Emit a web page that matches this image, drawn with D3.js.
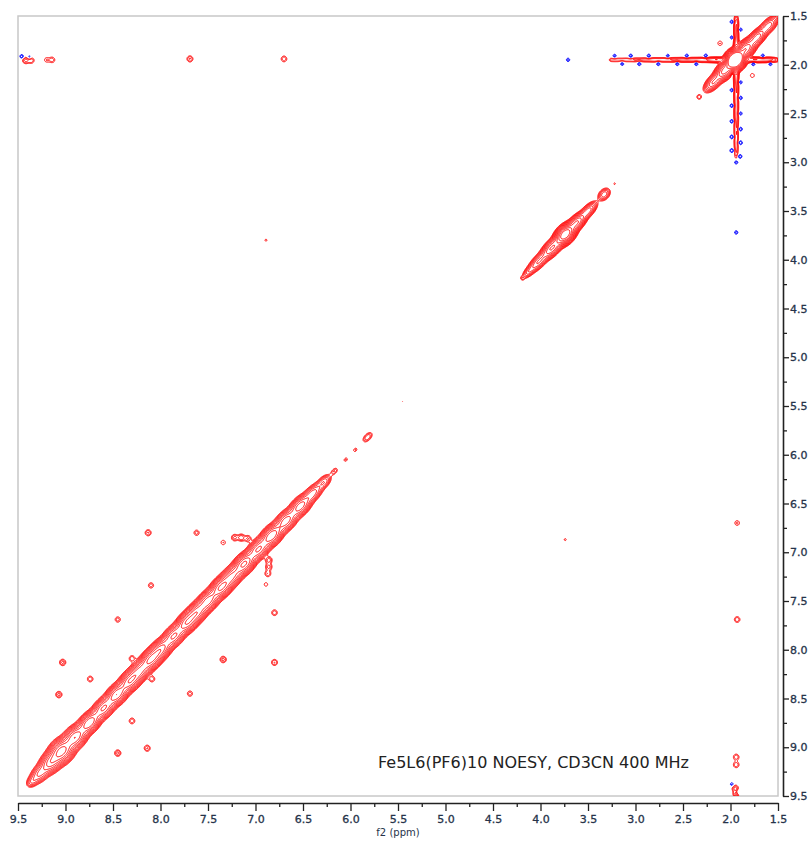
<!DOCTYPE html>
<html>
<head>
<meta charset="utf-8">
<script src="https://cdn.jsdelivr.net/npm/d3@7"></script>
<style>
body { margin: 0; background: #fff; }
svg { display: block; font-family: "DejaVu Sans", Verdana, sans-serif; }
</style>
</head>
<body>
<svg width="812" height="841"></svg>
<script>
// diagonal peaks: shift (ppm), height, width along / across the diagonal (ppm)
var diagShift  = [1.60, 1.72, 1.84, 1.95, 2.06, 2.18, 2.33,
                  3.22, 3.33, 3.50, 3.62, 3.74, 3.88, 4.02, 4.12, 4.19,
                  5.45, 5.82, 5.95, 6.05, 6.17, 6.28, 6.40, 6.53, 6.68, 6.83, 6.97,
                  7.12, 7.25, 7.36, 7.50, 7.62, 7.72, 7.86, 8.00, 8.10, 8.22, 8.32,
                  8.46, 8.60, 8.75, 8.90, 9.04, 9.15, 9.27, 9.35];
var diagHeight = [12, 25, 40, 200, 35, 14, 2,
                  1.2, 6, 12, 30, 90, 30, 14, 5, 1.4,
                  1.1, 3, 1.6, 1.6, 2.2, 6, 12, 25, 25, 40, 30,
                  45, 30, 45, 35, 35, 40, 30, 35, 45, 30, 40,
                  40, 30, 40, 40, 50, 25, 10, 4];
var diagAlong  = [0.06, 0.06, 0.06, 0.05, 0.06, 0.06, 0.02,
                  0.015, 0.04, 0.06, 0.06, 0.06, 0.07, 0.07, 0.05, 0.015,
                  0.012, 0.04, 0.02, 0.02, 0.03, 0.05, 0.07, 0.07, 0.07, 0.07, 0.07,
                  0.07, 0.07, 0.07, 0.07, 0.07, 0.07, 0.07, 0.07, 0.07, 0.07, 0.07,
                  0.07, 0.07, 0.07, 0.07, 0.07, 0.07, 0.06, 0.04];
var diagAcross = [0.03, 0.03, 0.035, 0.04, 0.035, 0.03, 0.02,
                  0.015, 0.028, 0.026, 0.03, 0.036, 0.032, 0.028, 0.022, 0.015,
                  0.012, 0.022, 0.015, 0.015, 0.018, 0.028, 0.033, 0.038, 0.04, 0.04, 0.04,
                  0.04, 0.04, 0.04, 0.04, 0.04, 0.04, 0.04, 0.04, 0.04, 0.04, 0.04,
                  0.04, 0.04, 0.04, 0.045, 0.05, 0.045, 0.038, 0.028];

// cross peaks: [f2, f1, height]
var crossPeaks = [
  [8.13, 6.80, 2.2], [6.80, 8.13, 2.2],
  [7.62, 6.80, 1.8], [6.80, 7.62, 2.0],
  [8.10, 7.34, 1.8], [7.34, 8.10, 2.4],
  [8.45, 7.69, 1.8], [7.69, 8.45, 1.8],
  [9.03, 8.13, 2.4], [8.14, 9.01, 2.2],
  [9.07, 8.46, 2.4], [8.45, 9.06, 2.4],
  [8.74, 8.30, 2.0], [8.30, 8.73, 2.0],
  [8.30, 8.09, 2.0], [8.09, 8.30, 2.0],
  [7.34, 6.90, 1.5], [6.89, 7.33, 1.3],
  [7.22, 6.85, 2.4], [7.15, 6.85, 2.9], [7.08, 6.86, 2.2],
  [6.86, 7.08, 2.6], [6.86, 7.15, 2.4], [6.87, 7.22, 2.1],
  [6.70, 1.94, 2.0], [1.93, 6.70, 1.6],
  [7.69, 1.94, 2.2], [1.93, 7.69, 2.0],
  [6.89, 3.80, 1.1], [3.74, 6.87, 1.1],
  [2.11, 1.78, 1.5], [1.77, 2.11, 1.4],
  [9.42, 1.955, 2.4], [9.36, 1.955, 2.0],
  [9.20, 1.95, 1.4], [9.14, 1.95, 1.8],
  [1.94, 9.10, 2.0], [1.94, 9.18, 2.0],
  [1.95, 9.42, 2.4], [1.94, 9.48, 2.4]
];

// t1 noise through the solvent line at 1.94 ppm
var streakVf1 = [1.55, 1.62, 1.70, 1.78, 1.86, 2.04, 2.12, 2.20, 2.28, 2.36, 2.44, 2.52, 2.60, 2.68, 2.76, 2.84, 2.92];
var streakVh  = [2.5, 3, 3, 3.5, 5, 5, 3.5, 3, 3, 2.5, 2.5, 2.5, 2, 2, 2, 1.7, 1.4];
var streakHf2 = [3.28, 3.20, 3.10, 3.00, 2.90, 2.80, 2.70, 2.60, 2.50, 2.40, 2.30, 2.20, 2.12, 1.78, 1.70, 1.62, 1.55];
var streakHh  = [1.2, 1.4, 1.6, 1.8, 2, 2.4, 2.4, 2.6, 3, 3, 3.5, 4, 5, 5, 4, 3.5, 3];

// negative (blue) peaks: [f2, f1, depth]
var negPeaks = [
  [1.985, 1.56, 2.0], [1.895, 1.64, 1.8], [1.985, 1.72, 1.8], [1.895, 1.82, 2.0],
  [1.985, 2.10, 2.1], [1.895, 2.18, 1.8], [1.985, 2.26, 2.0], [1.895, 2.34, 2.0],
  [1.985, 2.42, 2.1], [1.895, 2.50, 1.8], [1.985, 2.58, 2.1], [1.895, 2.66, 2.1],
  [1.985, 2.74, 2.2], [1.895, 2.80, 2.2], [1.985, 2.88, 2.3], [1.90, 2.94, 2.2],
  [1.94, 3.00, 2.2],
  [3.30, 1.95, 2.0], [3.22, 1.91, 1.8], [3.14, 1.99, 1.8], [3.05, 1.91, 2.0],
  [2.96, 1.99, 2.0], [2.86, 1.91, 2.0], [2.76, 1.99, 2.0], [2.66, 1.91, 1.8],
  [2.56, 1.99, 2.0], [2.46, 1.91, 2.0], [2.36, 1.99, 2.0], [2.26, 1.91, 2.1],
  [1.76, 1.99, 2.1], [1.66, 1.91, 2.0], [1.58, 1.99, 2.0],
  [3.71, 1.95, 1.8], [1.94, 3.72, 1.8],
  [9.46, 1.915, 2.2], [9.38, 1.92, 1.9], [1.915, 9.46, 2.2], [1.985, 9.38, 1.8]
];

var majorTicks = [9.5, 9.0, 8.5, 8.0, 7.5, 7.0, 6.5, 6.0, 5.5, 5.0, 4.5, 4.0, 3.5, 3.0, 2.5, 2.0, 1.5];
var minorTicks = [9.25, 8.75, 8.25, 7.75, 7.25, 6.75, 6.25, 5.75, 5.25, 4.75, 4.25, 3.75, 3.25, 2.75, 2.25, 1.75];

var svg = d3.select("svg");
var pL = 18, pR = 778, pT = 16, pB = 796;

var x = d3.scaleLinear().domain([9.5, 1.5]).range([pL, pR]);
var y = d3.scaleLinear().domain([1.5, 9.5]).range([pT, pB]);

// spectrum intensity on a 1px grid
var nx = pR - pL, ny = pB - pT;
var grid = new Array(nx * ny).fill(0);
var gx = d3.range(nx).map(i => x.invert(pL + i + 0.5));
var gy = d3.range(ny).map(j => y.invert(pT + j + 0.5));

function addPeak(f2, f1, h, s2, s1, diag) {
    var r = 4 * Math.max(s2, s1);
    var i0 = Math.max(0, Math.floor(x(f2 + r) - pL)), i1 = Math.min(nx - 1, Math.ceil(x(f2 - r) - pL));
    var j0 = Math.max(0, Math.floor(y(f1 - r) - pT)), j1 = Math.min(ny - 1, Math.ceil(y(f1 + r) - pT));
    for (var j = j0; j <= j1; j++) {
        for (var i = i0; i <= i1; i++) {
            var dx = gx[i] - f2, dy = gy[j] - f1, e;
            if (diag) {
                var u = (dx + dy) / Math.SQRT2, v = (dx - dy) / Math.SQRT2;
                e = u * u / (2 * s2 * s2) + v * v / (2 * s1 * s1);
            } else {
                e = dx * dx / (2 * s2 * s2) + dy * dy / (2 * s1 * s1);
            }
            if (e < 12) grid[j * nx + i] += h * Math.exp(-e);
        }
    }
}

diagShift.forEach((c, k) => addPeak(c, c, diagHeight[k], diagAlong[k], diagAcross[k], true));
crossPeaks.forEach(p => addPeak(p[0], p[1], p[2], 0.025, 0.025, false));
streakVf1.forEach((f1, k) => addPeak(1.94, f1, streakVh[k], 0.016, 0.05, false));
streakHf2.forEach((f2, k) => addPeak(f2, 1.95, streakHh[k], 0.05, 0.016, false));
negPeaks.forEach(p => addPeak(p[0], p[1], -p[2], 0.016, 0.016, false));

var levels = d3.range(12).map(k => Math.pow(1.45, k));
var pos = d3.contours().size([nx, ny]).thresholds(levels)(grid);
var neg = d3.contours().size([nx, ny]).thresholds([1, 1.45])(grid.map(v => -v));

svg.append("clipPath").attr("id", "clip")
   .append("rect").attr("x", pL).attr("y", pT).attr("width", nx).attr("height", ny);

// frame
svg.append("rect")
   .attr("x", pL).attr("y", pT).attr("width", nx).attr("height", ny)
   .attr("fill", "none").attr("stroke", "#c8c8c8").attr("stroke-width", 1.5);

var g = svg.append("g").attr("clip-path", "url(#clip)")
           .append("g").attr("transform", "translate(" + pL + "," + pT + ")");

g.selectAll("path.pos")
 .data(pos)
 .enter().append("path")
 .attr("class", "pos")
 .attr("d", d3.geoPath())
 .attr("fill", "none").attr("stroke", "#ff0000").attr("stroke-width", 0.95);

g.selectAll("path.neg")
 .data(neg)
 .enter().append("path")
 .attr("class", "neg")
 .attr("d", d3.geoPath())
 .attr("fill", "none").attr("stroke", "#0000ff").attr("stroke-width", 1);

// axes
var fmt = d3.format(".1f");
svg.append("g").attr("transform", "translate(0,803)")
   .call(d3.axisBottom(x).tickValues(majorTicks).tickFormat(fmt).tickSize(8).tickSizeOuter(0).tickPadding(4));
svg.append("g").attr("transform", "translate(0,803)")
   .call(d3.axisBottom(x).tickValues(minorTicks).tickFormat("").tickSize(4).tickSizeOuter(0))
   .select(".domain").remove();

svg.append("g").attr("transform", "translate(783,0)")
   .call(d3.axisRight(y).tickValues(majorTicks).tickFormat(fmt).tickSize(6).tickSizeOuter(0).tickPadding(1));
svg.append("g").attr("transform", "translate(783,0)")
   .call(d3.axisRight(y).tickValues(minorTicks).tickFormat("").tickSize(4).tickSizeOuter(0))
   .select(".domain").remove();

svg.selectAll(".domain").attr("stroke", "#222").attr("stroke-width", 1.6);
svg.selectAll(".tick line").attr("stroke", "#222").attr("stroke-width", 1.3);
svg.selectAll(".tick text")
   .attr("fill", "#26334a").attr("stroke", "#26334a").attr("stroke-width", 0.3)
   .style("font-size", "11px").style("font-family", "DejaVu Sans, sans-serif");

svg.append("text")
   .attr("x", (pL + pR) / 2).attr("y", 836)
   .attr("text-anchor", "middle")
   .attr("fill", "#26334a").style("font-size", "10px")
   .text("f2 (ppm)");

svg.append("text")
   .attr("x", 378).attr("y", 768)
   .attr("fill", "#222").style("font-size", "16px")
   .text("Fe5L6(PF6)10 NOESY, CD3CN 400 MHz");
</script>
</body>
</html>
